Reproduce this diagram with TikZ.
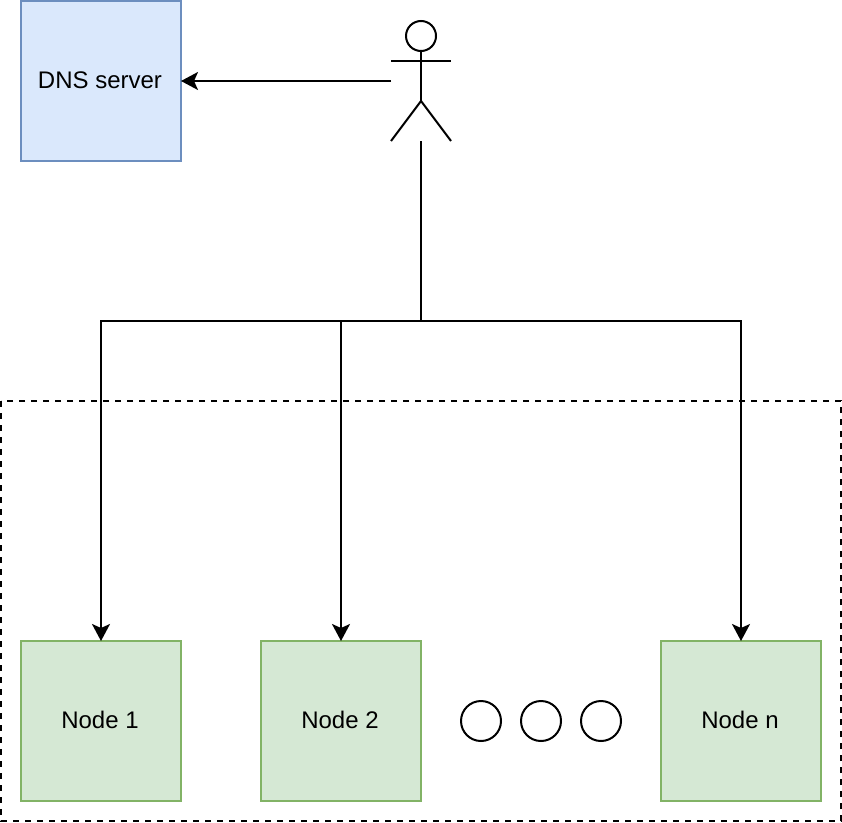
\documentclass[tikz,border=0pt]{standalone}
\usepackage{fontspec}
\setmainfont{Liberation Sans}
\usetikzlibrary{arrows.meta}
\definecolor{bluefill}{HTML}{DAE8FC}
\definecolor{blueline}{HTML}{6C8EBF}
\definecolor{greenfill}{HTML}{D5E8D4}
\definecolor{greenline}{HTML}{82B366}
\tikzset{
  server/.style={draw=blueline,fill=bluefill,minimum size=160pt,inner sep=0pt,font=\fontsize{24pt}{28pt}\selectfont,text=black},
  worker/.style={draw=greenline,fill=greenfill,minimum size=160pt,inner sep=0pt,font=\fontsize{24pt}{28pt}\selectfont,text=black},
  dot/.style={draw,fill=white,circle,minimum size=40pt,inner sep=0pt},
  conn/.style={draw=black,shorten >=-1pt,-{Stealth[length=17pt,width=18pt,inset=4pt]}},
}
\begin{document}
\begin{tikzpicture}[x=1pt,y=-1pt,line width=2pt]
\useasboundingbox (0,0) rectangle (842,822);
\draw[dash pattern=on 6pt off 6pt] (1,401) rectangle (841,821);
\node[server] (dns) at (101,81) {\raisebox{1pt}{DNS server\hspace{2pt}}};
\node[worker] (n1) at (101,721) {\raisebox{2pt}{Node 1\hspace{2pt}}};
\node[worker] (n2) at (341,721) {\raisebox{2pt}{Node 2\hspace{2pt}}};
\node[worker] (nn) at (741,721) {\raisebox{2pt}{Node n\hspace{2pt}}};
\node[dot] (d1) at (481,721) {};
\node[dot] (d2) at (541,721) {};
\node[dot] (d3) at (601,721) {};
% actor
\node[draw,circle,minimum size=30pt,inner sep=0pt] (head) at (421,36) {};
\coordinate (hip) at (421,101);
\coordinate (armL) at (391,61);
\coordinate (armR) at (451,61);
\coordinate (legL) at (391,141);
\coordinate (legR) at (451,141);
\coordinate (feet) at (421,141);
\coordinate (bus) at (421,321);
\draw (head.south) -- (hip);
\draw (armL) -- (armR);
\draw (legL) -- (hip) -- (legR);
\draw[conn] (armL |- dns.east) -- (dns.east);
\draw (feet) -- (bus);
\draw[conn] (bus) -| (n1.north);
\draw[conn] (bus) -| (n2.north);
\draw[conn] (bus) -| (nn.north);
\end{tikzpicture}
\end{document}
